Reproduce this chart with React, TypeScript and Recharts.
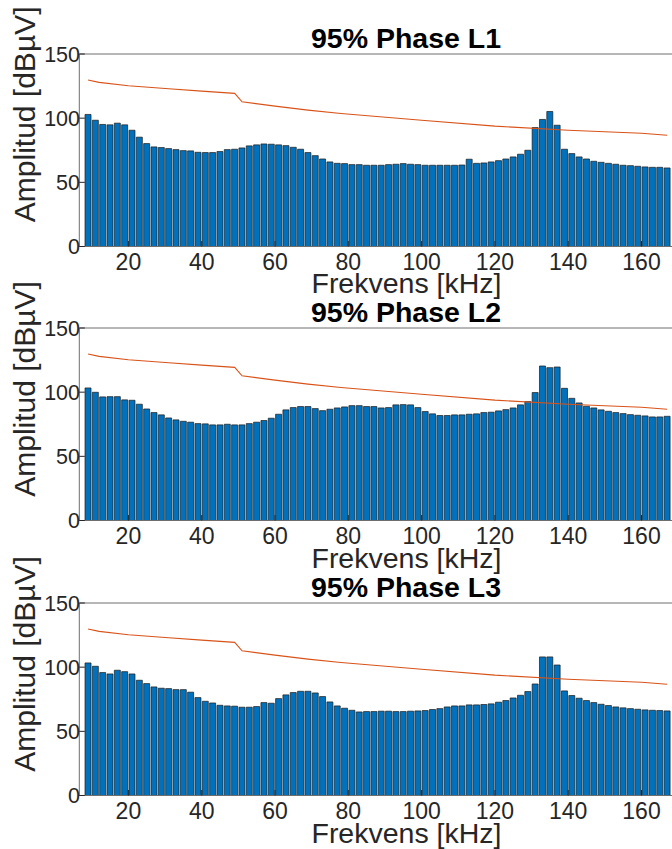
import React from 'react';
import { ComposedChart, Bar, Line, XAxis, YAxis } from 'recharts';

// ---- data ----
const freqs = [
  9, 11, 13, 15, 17, 19, 21, 23, 25, 27, 29, 31, 33, 35, 37, 39, 41, 43, 45, 47,
  49, 51, 53, 55, 57, 59, 61, 63, 65, 67, 69, 71, 73, 75, 77, 79, 81, 83, 85, 87,
  89, 91, 93, 95, 97, 99, 101, 103, 105, 107, 109, 111, 113, 115, 117, 119, 121, 123, 125, 127,
  129, 131, 133, 135, 137, 139, 141, 143, 145, 147, 149, 151, 153, 155, 157, 159, 161, 163, 165, 167,
];

const phaseL1 = [
  102.9, 98.4, 95.1, 94.8, 96.1, 94.8, 90.6, 85.2, 80.2, 77.6, 77.1, 76.3, 75.5, 74.7, 74.5, 73.4, 73.2, 73.2, 74.0, 75.5,
  75.8, 76.8, 78.4, 79.2, 79.9, 79.7, 79.2, 78.6, 77.3, 75.8, 73.2, 70.8, 68.2, 65.9, 64.8, 64.6, 63.8, 63.8, 63.3, 63.3,
  63.3, 63.8, 64.1, 64.6, 64.1, 63.8, 63.3, 63.3, 63.3, 63.3, 63.3, 63.5, 68.0, 64.8, 65.1, 65.9, 66.9, 68.2, 69.8, 71.9,
  75.0, 92.7, 99.0, 105.2, 94.5, 75.8, 72.4, 69.8, 68.2, 66.4, 65.6, 64.8, 64.1, 63.3, 63.0, 62.5, 62.0, 61.7, 61.7, 61.2,
];

const phaseL2 = [
  103.3, 99.9, 96.3, 96.5, 96.5, 94.0, 93.7, 90.6, 86.9, 84.1, 82.3, 79.9, 78.4, 77.3, 76.6, 75.5, 75.3, 74.5, 74.5, 75.0,
  74.5, 74.5, 75.5, 76.6, 77.9, 79.7, 82.8, 86.2, 88.0, 88.8, 88.8, 87.2, 85.6, 86.7, 87.7, 88.5, 89.5, 89.5, 88.8, 88.8,
  87.7, 88.0, 90.1, 90.3, 90.1, 88.0, 84.9, 83.1, 81.8, 81.8, 82.3, 82.3, 82.8, 83.1, 84.1, 84.4, 85.4, 86.4, 87.7, 90.1,
  92.7, 99.7, 120.4, 119.1, 119.6, 103.0, 95.2, 91.6, 89.0, 87.7, 86.2, 85.1, 84.1, 83.3, 82.5, 82.0, 81.5, 80.7, 80.7, 81.2,
];

const phaseL3 = [
  103.3, 100.7, 95.8, 94.7, 97.6, 96.5, 94.7, 89.8, 87.2, 84.6, 83.6, 83.3, 82.5, 82.5, 80.5, 76.3, 73.4, 72.1, 70.3, 69.8,
  69.6, 68.8, 68.8, 69.3, 72.4, 71.9, 75.5, 78.4, 80.2, 81.2, 81.2, 79.9, 77.1, 72.9, 69.8, 68.0, 66.4, 65.1, 65.4, 65.4,
  65.7, 65.7, 65.4, 65.4, 65.7, 65.9, 66.2, 67.0, 67.7, 69.0, 69.8, 69.8, 70.6, 70.6, 70.9, 71.4, 72.7, 74.0, 76.0, 78.1,
  81.0, 86.9, 108.0, 108.0, 101.7, 81.5, 77.9, 75.8, 74.0, 72.4, 71.1, 70.1, 69.0, 68.3, 67.7, 67.2, 66.7, 66.4, 66.2, 65.9,
];

const limitFreqs = [9, 12, 20, 31, 40, 49, 51, 60, 69, 78, 100, 120, 140, 160, 167];
const limitValues = [129.7, 127.9, 125.3, 122.9, 121.1, 119.3, 112.8, 109.4, 106.3, 103.6, 98.4, 93.8, 90.6, 88.3, 86.7];

const xTicks = [20, 40, 60, 80, 100, 120, 140, 160];
const yTicks = [0, 50, 100, 150];
const titles = ['95% Phase L1', '95% Phase L2', '95% Phase L3'];
const xLabel = 'Frekvens [kHz]';
const yLabel = 'Amplitud [dBµV]';

// ---- layout ----
const X_MIN = 6.6;
const X_MAX = 168.4;
const PLOT_LEFT = 79.3;
const PLOT_RIGHT = 672.3;
const PLOT_H = 192.5;
const PLOT_TOPS = [53.7, 328.3, 603.3];
const TOP_PAD = 60;
const BOTTOM_PAD = 60;
const CHART_W = 700;
const FONT = '"Liberation Sans", Arial, Helvetica, sans-serif';
const AXIS_COLOR = '#6e6e6e';
const TEXT_COLOR = '#262626';
const TICK = 5.5;

const pxPerK = (PLOT_RIGHT - PLOT_LEFT) / (X_MAX - X_MIN);
const bandPadL = (freqs[0] - 1 - X_MIN) * pxPerK;
const bandPadR = (X_MAX - (freqs[freqs.length - 1] + 1)) * pxPerK;

const limitData = limitFreqs.map((f, i) => ({ f, lim: limitValues[i] }));

function Panel({ values, top }: { values: number[]; top: number }) {
  const data = freqs.map((f, i) => ({ f, v: values[i] }));
  return (
    <div style={{ position: 'absolute', left: 0, top: top - TOP_PAD }}>
      <ComposedChart
        width={CHART_W}
        height={TOP_PAD + PLOT_H + BOTTOM_PAD}
        data={data}
        margin={{ top: TOP_PAD - 1, right: 0, bottom: 0, left: 0 }}
        barCategoryGap="8%"
      >
        <Bar
          xAxisId="cat"
          yAxisId="l"
          dataKey="v"
          fill="#0072BD"
          stroke="#1a1a1a"
          strokeWidth={0.7}
          isAnimationActive={false}
        />
        <Line
          xAxisId="num"
          yAxisId="l"
          data={limitData}
          dataKey="lim"
          type="linear"
          stroke="#D95319"
          strokeWidth={1.1}
          dot={false}
          activeDot={false}
          isAnimationActive={false}
        />
        <XAxis
          xAxisId="top"
          dataKey="f"
          type="number"
          orientation="top"
          domain={[X_MIN, X_MAX]}
          allowDataOverflow
          ticks={xTicks}
          interval={0}
          height={1}
          tickSize={-TICK}
          tick={false}
          axisLine={{ stroke: AXIS_COLOR }}
          tickLine={{ stroke: TEXT_COLOR }}
        />
        <XAxis
          xAxisId="num"
          dataKey="f"
          type="number"
          domain={[X_MIN, X_MAX]}
          allowDataOverflow
          ticks={xTicks}
          interval={0}
          height={BOTTOM_PAD}
          tickSize={-TICK}
          tickMargin={12.2}
          axisLine={{ stroke: AXIS_COLOR }}
          tickLine={{ stroke: TEXT_COLOR }}
          tick={{ fontSize: 23, fill: TEXT_COLOR, fontFamily: FONT }}
        />
        <XAxis
          xAxisId="cat"
          dataKey="f"
          type="category"
          hide
          height={0}
          padding={{ left: bandPadL, right: bandPadR }}
        />
        <YAxis
          yAxisId="l"
          type="number"
          domain={[0, 150]}
          ticks={yTicks}
          interval={0}
          width={PLOT_LEFT}
          tickSize={-TICK}
          tickMargin={4.8}
          axisLine={{ stroke: AXIS_COLOR }}
          tickLine={{ stroke: TEXT_COLOR }}
          tick={{ fontSize: 21.5, fill: TEXT_COLOR, fontFamily: FONT }}
        />
        <YAxis
          yAxisId="r"
          orientation="right"
          type="number"
          domain={[0, 150]}
          ticks={yTicks}
          interval={0}
          width={CHART_W - PLOT_RIGHT}
          tickSize={-TICK}
          tick={false}
          axisLine={false}
          tickLine={{ stroke: TEXT_COLOR }}
        />
      </ComposedChart>
    </div>
  );
}

export default function App() {
  const series = [phaseL1, phaseL2, phaseL3];
  return (
    <div
      style={{
        position: 'fixed',
        left: 0,
        top: 0,
        width: 672,
        height: 849,
        overflow: 'hidden',
        background: '#ffffff',
      }}
    >
      {series.map((vals, i) => (
        <Panel key={i} values={vals} top={PLOT_TOPS[i]} />
      ))}
      <svg
        width={672}
        height={849}
        style={{ position: 'absolute', left: 0, top: 0, pointerEvents: 'none' }}
      >
        {PLOT_TOPS.map((t, i) => {
          const bottom = t + PLOT_H;
          return (
            <g key={i}>
              <text
                x={406}
                y={t - 6}
                textAnchor="middle"
                fontFamily={FONT}
                fontWeight="bold"
                fontSize={28.5}
                fill="#000"
              >
                {titles[i]}
              </text>
              <text
                x={406.5}
                y={bottom + 47}
                textAnchor="middle"
                fontFamily={FONT}
                fontSize={28.5}
                fill={TEXT_COLOR}
              >
                {xLabel}
              </text>
              <text
                x={35}
                y={bottom - 24}
                transform={`rotate(-90, 35, ${bottom - 24})`}
                textAnchor="start"
                fontFamily={FONT}
                fontSize={30}
                fill={TEXT_COLOR}
              >
                {yLabel}
              </text>
            </g>
          );
        })}
      </svg>
    </div>
  );
}
